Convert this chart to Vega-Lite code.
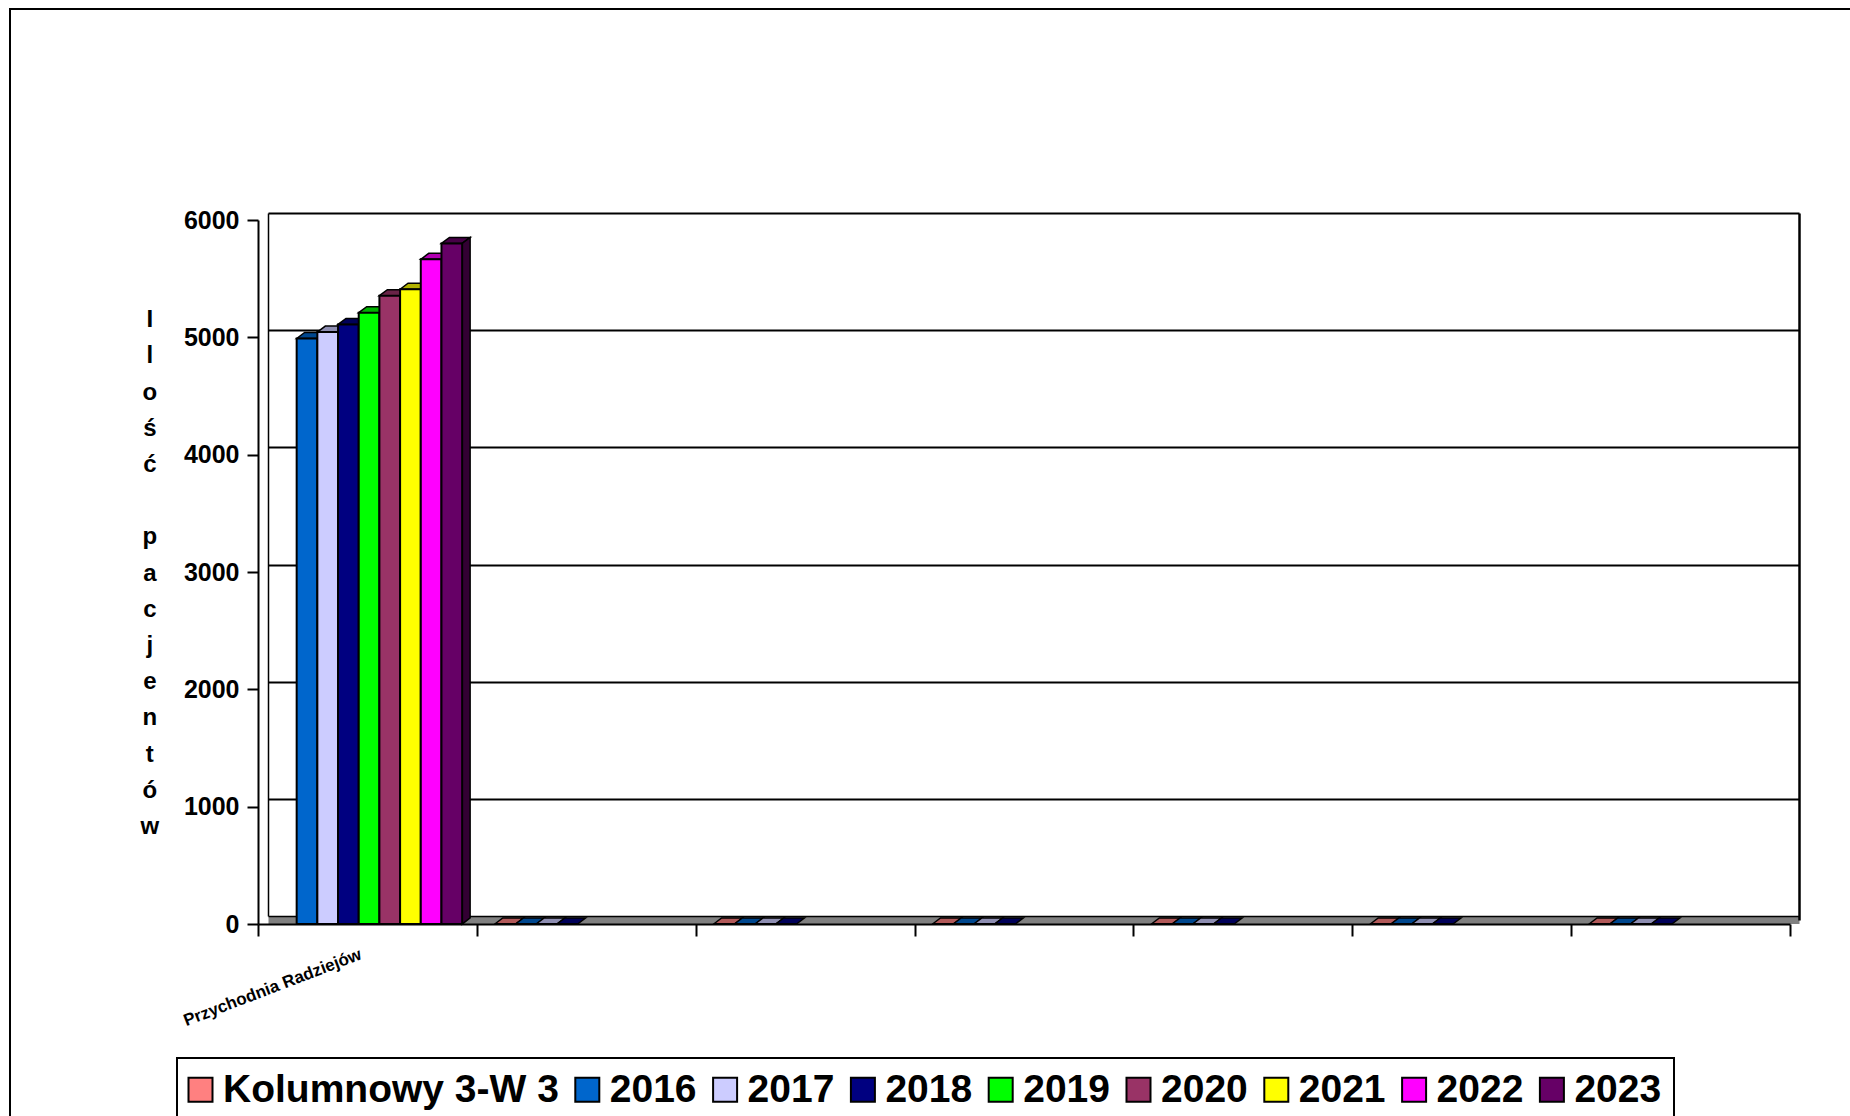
{
  "$schema": "https://vega.github.io/schema/vega-lite/v6.json",
  "width": 1846,
  "height": 1113,
  "autosize": {"type": "none"},
  "padding": {"left": 10, "top": 9, "right": -6, "bottom": -6},
  "background": "white",
  "config": {
    "view": {"stroke": "black", "strokeWidth": 2},
    "font": "Liberation Sans"
  },
  "data": {
    "values": [
      {"kategoria": "Przychodnia Radziejów", "seria": "2016", "pacjenci": 4990},
      {"kategoria": "Przychodnia Radziejów", "seria": "2017", "pacjenci": 5045},
      {"kategoria": "Przychodnia Radziejów", "seria": "2018", "pacjenci": 5110},
      {"kategoria": "Przychodnia Radziejów", "seria": "2019", "pacjenci": 5210},
      {"kategoria": "Przychodnia Radziejów", "seria": "2020", "pacjenci": 5355},
      {"kategoria": "Przychodnia Radziejów", "seria": "2021", "pacjenci": 5410},
      {"kategoria": "Przychodnia Radziejów", "seria": "2022", "pacjenci": 5665},
      {"kategoria": "Przychodnia Radziejów", "seria": "2023", "pacjenci": 5800},
      {"kategoria": " ", "seria": "Kolumnowy 3-W 3", "pacjenci": 0},
      {"kategoria": " ", "seria": "2016", "pacjenci": 0},
      {"kategoria": " ", "seria": "2017", "pacjenci": 0},
      {"kategoria": " ", "seria": "2018", "pacjenci": 0},
      {"kategoria": "  ", "seria": "Kolumnowy 3-W 3", "pacjenci": 0},
      {"kategoria": "  ", "seria": "2016", "pacjenci": 0},
      {"kategoria": "  ", "seria": "2017", "pacjenci": 0},
      {"kategoria": "  ", "seria": "2018", "pacjenci": 0},
      {"kategoria": "   ", "seria": "Kolumnowy 3-W 3", "pacjenci": 0},
      {"kategoria": "   ", "seria": "2016", "pacjenci": 0},
      {"kategoria": "   ", "seria": "2017", "pacjenci": 0},
      {"kategoria": "   ", "seria": "2018", "pacjenci": 0},
      {"kategoria": "    ", "seria": "Kolumnowy 3-W 3", "pacjenci": 0},
      {"kategoria": "    ", "seria": "2016", "pacjenci": 0},
      {"kategoria": "    ", "seria": "2017", "pacjenci": 0},
      {"kategoria": "    ", "seria": "2018", "pacjenci": 0},
      {"kategoria": "     ", "seria": "Kolumnowy 3-W 3", "pacjenci": 0},
      {"kategoria": "     ", "seria": "2016", "pacjenci": 0},
      {"kategoria": "     ", "seria": "2017", "pacjenci": 0},
      {"kategoria": "     ", "seria": "2018", "pacjenci": 0},
      {"kategoria": "      ", "seria": "Kolumnowy 3-W 3", "pacjenci": 0},
      {"kategoria": "      ", "seria": "2016", "pacjenci": 0},
      {"kategoria": "      ", "seria": "2017", "pacjenci": 0},
      {"kategoria": "      ", "seria": "2018", "pacjenci": 0}
    ]
  },
  "resolve": {
    "scale": {"x": "independent", "y": "independent"},
    "axis": {"x": "independent", "y": "independent"}
  },
  "layer": [
    {
      "mark": {"type": "point", "opacity": 0},
      "encoding": {
        "x": {
          "field": "kategoria", "type": "nominal",
          "sort": ["Przychodnia Radziejów", " ", "  ", "   ", "    ", "     ", "      "],
          "scale": {"type": "band", "range": [258, 1789], "paddingInner": 0, "paddingOuter": 0},
          "axis": null
        },
        "y": {
          "field": "pacjenci", "type": "quantitative",
          "scale": {"domain": [0, 6000], "range": [911, 204], "nice": false, "zero": true},
          "axis": {
            "orient": "left", "offset": -1789,
            "values": [0],
            "grid": true, "gridColor": "#808080", "gridWidth": 7, "gridOpacity": 1,
            "labels": false, "ticks": false,
            "domain": true, "domainColor": "black", "domainWidth": 2.5,
            "title": null
          }
        }
      }
    },
    {
      "mark": {"type": "point", "opacity": 0},
      "encoding": {
        "x": {
          "field": "kategoria", "type": "nominal",
          "sort": ["Przychodnia Radziejów", " ", "  ", "   ", "    ", "     ", "      "],
          "scale": {"type": "band", "range": [258, 1789], "paddingInner": 0, "paddingOuter": 0},
          "axis": null
        },
        "y": {
          "field": "pacjenci", "type": "quantitative",
          "scale": {"domain": [0, 6000], "range": [907, 204], "nice": false, "zero": true},
          "axis": {
            "orient": "left", "offset": -258,
            "values": [0, 1000, 2000, 3000, 4000, 5000, 6000],
            "grid": true,
            "gridColor": "black",
            "gridWidth": {"condition": {"test": "datum.value === 0", "value": 1.5}, "value": 2},
            "gridOpacity": 1,
            "labels": false, "ticks": false,
            "domain": true, "domainColor": "black", "domainWidth": 1.5,
            "title": ["p", "a", "c", "j", "e", "n", "t", "ó", "w"],
            "titleAngle": 0, "titleAlign": "center", "titleBaseline": "alphabetic",
            "titleX": -118.7, "titleY": 534.9,
            "titleFont": "Liberation Sans", "titleFontWeight": "bold", "titleFontSize": 24,
            "titleColor": "black", "titleLineHeight": 36.2
          }
        }
      }
    },
    {
      "encoding": {
        "x": {
          "field": "kategoria", "type": "nominal",
          "sort": ["Przychodnia Radziejów", " ", "  ", "   ", "    ", "     ", "      "],
          "scale": {"type": "band", "range": [248, 1780], "paddingInner": 0, "paddingOuter": 0},
          "axis": {
            "orient": "bottom", "offset": -198,
            "tickBand": "extent",
            "grid": false,
            "domainColor": "black", "domainWidth": 2,
            "tickColor": "black", "tickWidth": 2, "tickSize": 12,
            "labelFont": "Liberation Sans", "labelFontWeight": "bold", "labelFontSize": 17,
            "labelColor": "black", "labelAngle": -21, "labelAlign": "right", "labelBaseline": "top",
            "labelPadding": 10, "labelOffset": -10, "labelLimit": 0,
            "title": null
          }
        },
        "xOffset": {
          "field": "seria", "type": "nominal",
          "sort": ["Kolumnowy 3-W 3", "2016", "2017", "2018", "2019", "2020", "2021", "2022", "2023"],
          "scale": {"domain": ["Kolumnowy 3-W 3", "2016", "2017", "2018", "2019", "2020", "2021", "2022", "2023"], "paddingInner": 0, "paddingOuter": 0.79, "align": 0.55}
        },
        "y": {
          "field": "pacjenci", "type": "quantitative",
          "scale": {"domain": [0, 6000], "range": [915, 211], "nice": false},
          "axis": {
            "orient": "left", "offset": -248,
            "values": [0, 1000, 2000, 3000, 4000, 5000, 6000],
            "format": "d",
            "grid": false,
            "domain": true, "domainColor": "black", "domainWidth": 2,
            "ticks": true, "tickColor": "black", "tickWidth": 2, "tickSize": 11,
            "labelFont": "Liberation Sans", "labelFontWeight": "bold", "labelFontSize": 25,
            "labelColor": "black", "labelPadding": 8,
            "title": ["I", "l", "o", "ś", "ć"],
            "titleAngle": 0, "titleAlign": "center", "titleBaseline": "alphabetic",
            "titleX": -108.7, "titleY": 317.7,
            "titleFont": "Liberation Sans", "titleFontWeight": "bold", "titleFontSize": 24,
            "titleColor": "black", "titleLineHeight": 36.2
          }
        }
      },
      "layer": [
        {
          "mark": {"type": "point", "filled": true, "size": 428, "shape": "M-1,0L-0.23,-0.58L1.77,-0.58L1,0Z", "stroke": "black", "strokeWidth": 1.5, "opacity": 1},
          "encoding": {
            "color": {
              "field": "seria", "type": "nominal",
              "scale": {
                "domain": ["Kolumnowy 3-W 3", "2016", "2017", "2018", "2019", "2020", "2021", "2022", "2023"],
                "range": ["#FF8080", "#0066CC", "#CCCCFF", "#000080", "#00FF00", "#993366", "#FFFF00", "#FF00FF", "#660066"]
              },
              "legend": {
                "orient": "none", "legendX": 167, "legendY": 1049,
                "direction": "horizontal", "columns": 9,
                "title": null,
                "symbolType": "square", "symbolSize": 576, "symbolOffset": -8,
                "symbolStrokeColor": "black", "symbolStrokeWidth": 2, "symbolOpacity": 1,
                "labelFont": "Liberation Sans", "labelFontWeight": "bold", "labelFontSize": 39,
                "labelColor": "black", "labelOffset": 3, "labelLimit": 0,
                "columnPadding": 11.8, "padding": 12,
                "strokeColor": "black",
                "encode": {
                  "legend": {"update": {"strokeWidth": {"value": 2}}},
                  "symbols": {"update": {"shape": {"value": "square"}, "size": {"value": 576}, "stroke": {"value": "black"}, "strokeWidth": {"value": 2}, "opacity": {"value": 1}}}
                }
              }
            }
          }
        },
        {
          "transform": [{"filter": "datum.seria === '2023'"}],
          "mark": {"type": "point", "filled": true, "size": 428, "shape": "M1,0L1.77,-0.58L1.77,65.2L1,65.8Z", "stroke": "black", "strokeWidth": 1.5, "opacity": 1},
          "encoding": {
            "color": {"field": "seria", "type": "nominal"}
          }
        },
        {
          "mark": {"type": "point", "filled": true, "size": 428, "shape": "M-1,0L-0.23,-0.58L1.77,-0.58L1,0Z", "color": "black", "fillOpacity": 0.3, "strokeWidth": 0, "opacity": 1}
        },
        {
          "transform": [{"filter": "datum.seria === '2023'"}],
          "mark": {"type": "point", "filled": true, "size": 428, "shape": "M1,0L1.77,-0.58L1.77,65.2L1,65.8Z", "color": "black", "fillOpacity": 0.5, "strokeWidth": 0, "opacity": 1}
        },
        {
          "mark": {"type": "bar", "stroke": "black", "strokeWidth": 2, "opacity": 1},
          "encoding": {
            "color": {"field": "seria", "type": "nominal"}
          }
        }
      ]
    }
  ]
}
